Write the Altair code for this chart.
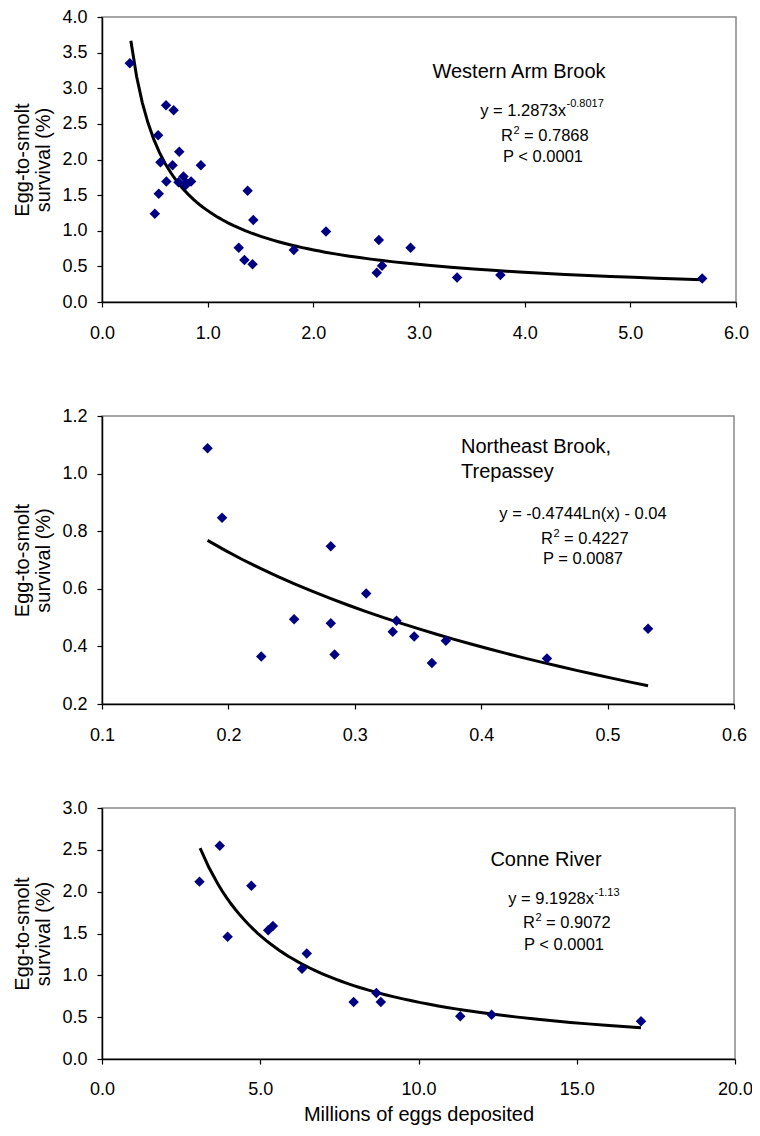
import altair as alt
import pandas as pd

# ---------------- data ----------------
wab_x = [0.263, 0.606, 0.678, 0.531, 0.731, 0.553, 0.668, 0.936, 0.609, 0.724,
         0.771, 0.80, 0.843, 0.79, 0.537, 0.50, 1.378, 1.432, 1.294, 1.348,
         1.425, 1.815, 2.12, 2.62, 2.65, 2.60, 2.92, 3.36, 3.77, 5.68]
wab_y = [3.35, 2.76, 2.69, 2.34, 2.11, 1.96, 1.92, 1.92, 1.69, 1.68,
         1.76, 1.67, 1.69, 1.64, 1.52, 1.24, 1.56, 1.15, 0.76, 0.59,
         0.53, 0.73, 0.99, 0.87, 0.51, 0.41, 0.76, 0.345, 0.38, 0.33]

neb_x = [0.1835, 0.195, 0.226, 0.252, 0.281, 0.281, 0.284, 0.309, 0.330, 0.333,
         0.347, 0.361, 0.372, 0.452, 0.532]
neb_y = [1.088, 0.847, 0.365, 0.494, 0.748, 0.480, 0.372, 0.584, 0.451, 0.489,
         0.434, 0.342, 0.420, 0.358, 0.461]

con_x = [3.08, 3.72, 3.97, 4.72, 5.25, 5.40, 6.32, 6.47, 7.95, 8.67,
         8.81, 11.32, 12.31, 17.03]
con_y = [2.12, 2.55, 1.46, 2.07, 1.54, 1.59, 1.08, 1.26, 0.68, 0.79,
         0.68, 0.51, 0.53, 0.45]

wab_xticks = [0, 1, 2, 3, 4, 5, 6]
wab_yticks = [0, 0.5, 1, 1.5, 2, 2.5, 3, 3.5, 4]
neb_xticks = [0.1, 0.2, 0.3, 0.4, 0.5, 0.6]
neb_yticks = [0.2, 0.4, 0.6, 0.8, 1.0, 1.2]
con_xticks = [0, 5, 10, 15, 20]
con_yticks = [0, 0.5, 1, 1.5, 2, 2.5, 3]

wab_text = ["Western Arm Brook", "y = 1.2873x", "-0.8017", "R", "2", "= 0.7868", "P < 0.0001"]
neb_text = ["Northeast Brook,", "Trepassey", "y = -0.4744Ln(x) - 0.04", "R", "2", "= 0.4227", "P = 0.0087"]
con_text = ["Conne River", "y = 9.1928x", "-1.13", "R", "2", "= 0.9072", "P < 0.0001"]

y_title = ["Egg-to-smolt", "survival (%)"]
x_title = "Millions of eggs deposited"

FONT = "Liberation Sans"


def txt(s, x, y, size, align):
    return alt.Chart(pd.DataFrame({"t": [s]})).mark_text(
        align=align, baseline="alphabetic", fontSize=size, font=FONT, color="black"
    ).encode(x=alt.value(x), y=alt.value(y), text="t:N")


def r2(texts, cx, y):
    # "R" + superscript "2" + "= value", centred roughly on cx
    return [txt(texts[3], cx - 30, y, 16.5, "right"),
            txt(texts[4], cx - 29.5, y - 7, 11, "left"),
            txt(texts[5], cx - 19, y, 16.5, "left")]


def panel(xs, ys, xdom, xticks, ydom, yticks, method, extent, w, h, texts,
          xtitle=None, xlabpad=17, xtitlepad=8):
    df = pd.DataFrame({"x": xs, "y": ys})
    xaxis = alt.Axis(values=xticks, format=".1f", labelPadding=xlabpad,
                     labelFlush=False, labelOverlap=False,
                     titlePadding=xtitlepad, title=xtitle)
    yaxis = alt.Axis(values=yticks, format=".1f", labelPadding=10,
                     labelFlush=False, labelOverlap=False,
                     titlePadding=8, title=y_title, titleLineHeight=21)
    xs_ = alt.Scale(domain=xdom, nice=False, zero=False)
    ys_ = alt.Scale(domain=ydom, nice=False, zero=False)
    pts = alt.Chart(df).mark_point(shape="diamond", filled=True, size=110,
                                   color="#000080", opacity=1).encode(
        x=alt.X("x:Q", scale=xs_, axis=xaxis), y=alt.Y("y:Q", scale=ys_, axis=yaxis))
    line = alt.Chart(df).transform_regression(
        "x", "y", method=method, extent=extent
    ).mark_line(color="black", strokeWidth=3, clip=True).encode(
        x=alt.X("x:Q", scale=xs_, axis=xaxis), y=alt.Y("y:Q", scale=ys_, axis=yaxis))
    return alt.layer(line, pts, *texts).properties(width=w, height=h)


p1 = panel(wab_x, wab_y, [0, 6], wab_xticks, [0, 4], wab_yticks, "pow", [0.273, 5.68], 634, 285,
           [txt(wab_text[0], 417, 61, 20, "center"),
            txt(wab_text[1], 464, 99, 16.5, "right"),
            txt(wab_text[2], 464.5, 90, 11, "left"),
            *r2(wab_text, 441, 124),
            txt(wab_text[6], 441, 145, 16.5, "center")])

p2 = panel(neb_x, neb_y, [0.1, 0.6], neb_xticks, [0.2, 1.2], neb_yticks, "log", [0.1835, 0.532], 632, 288,
           [txt(neb_text[0], 359, 37, 20, "left"),
            txt(neb_text[1], 359, 62, 20, "left"),
            txt(neb_text[2], 481, 103, 16.5, "center"),
            *r2(neb_text, 481, 128),
            txt(neb_text[6], 481, 148, 16.5, "center")])

p3 = panel(con_x, con_y, [0, 20], con_xticks, [0, 3], con_yticks, "pow", [3.1, 17.03], 633, 251,
           [txt(con_text[0], 444, 58, 20, "center"),
            txt(con_text[1], 492, 96, 16.5, "right"),
            txt(con_text[2], 492.5, 88, 11, "left"),
            *r2(con_text, 463, 120),
            txt(con_text[6], 462, 142, 16.5, "center")],
           xtitle=x_title, xlabpad=16, xtitlepad=6)

chart = alt.vconcat(alt.vconcat(p1, p2, spacing=63), p3, spacing=53).properties(
    padding={"left": 4, "top": -1, "right": -2, "bottom": 0}
).configure_view(
    stroke="#888888", strokeWidth=1.5
).configure_axis(
    grid=False, domainColor="black", domainWidth=1.5, tickColor="black", tickSize=5,
    tickWidth=1.2, labelFont=FONT, labelFontSize=18, labelColor="black",
    labelOverlap=False,
    titleFont=FONT, titleFontSize=20, titleFontWeight="normal", titleColor="black"
)

chart.save("out.html", embed_options={"renderer": "svg", "actions": False})
